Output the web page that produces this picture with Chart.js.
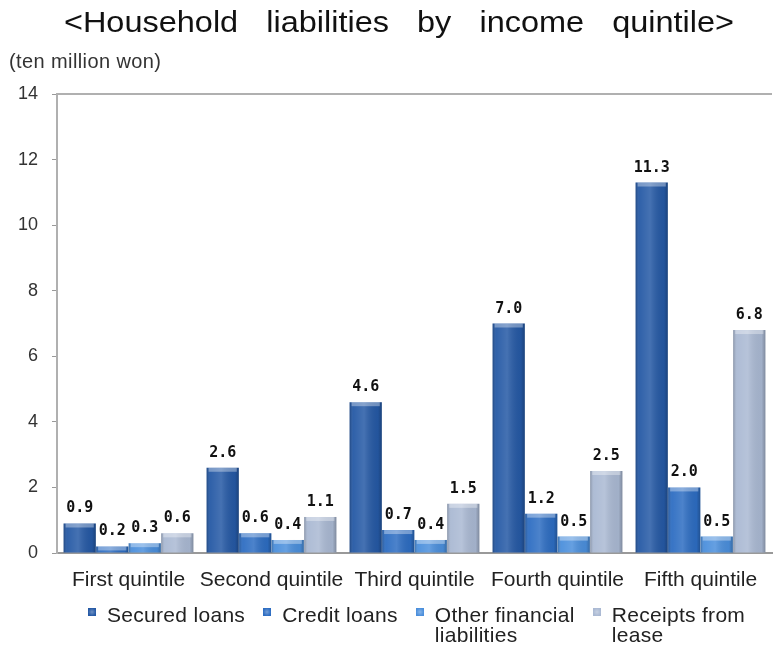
<!DOCTYPE html>
<html>
<head>
<meta charset="utf-8">
<script src="https://cdn.jsdelivr.net/npm/chart.js@4/dist/chart.umd.min.js"></script>
<style>
body{margin:0;background:#fff;font-family:"Liberation Sans",Arial,sans-serif;color:#222}
#wrap{position:relative;width:774px;height:645px}
#title{position:absolute;top:6px;left:0;width:798px;text-align:center;font-size:29px;line-height:32px;word-spacing:17px;color:#111;transform:scaleX(1.12);transform-origin:399px 0}
#unit{position:absolute;top:50px;left:9px;font-size:20px;line-height:22px;letter-spacing:0.4px;color:#333}
#legend{position:absolute;top:605px;left:88px;display:flex;gap:18px;font-size:21px;line-height:20px;letter-spacing:0.3px;color:#222}
#legend .item{display:flex;align-items:flex-start}
#legend .box{width:8px;height:8px;margin-top:3px;margin-right:11px;flex:none}
canvas{position:absolute;left:0;top:0}
</style>
</head>
<body>
<div id="wrap">
<canvas id="lienzo" width="774" height="645"></canvas>
<div id="title">&lt;Household liabilities by income quintile&gt;</div>
<div id="unit">(ten million won)</div>
<div id="legend"></div>
</div>
<script>
const categories = ["First quintile","Second quintile","Third quintile","Fourth quintile","Fifth quintile"]
const seriesNames = [["Secured loans"],["Credit loans"],["Other financial","liabilities"],["Receipts from","lease"]]
const securedLoans = [0.9, 2.6, 4.6, 7.0, 11.3]
const creditLoans = [0.2, 0.6, 0.7, 1.2, 2.0]
const otherLiabilities = [0.3, 0.4, 0.4, 0.5, 0.5]
const leaseReceipts = [0.6, 1.1, 1.5, 2.5, 6.8]
const yTicks = [0, 2, 4, 6, 8, 10, 12, 14]
const colors = ["#2559a5", "#2d6dc2", "#4b8fdc", "#aab9d3"]

// legend in html so the labels can wrap on two lines
let legend = document.getElementById("legend")
seriesNames.forEach((name, i) => {
    let item = document.createElement("div")
    item.className = "item"
    let box = document.createElement("div")
    box.className = "box"
    box.style.background = "radial-gradient(circle, #ffffff55 0%, " + colors[i] + " 70%)"
    box.style.backgroundColor = colors[i]
    let txt = document.createElement("div")
    txt.innerHTML = name.join("<br>")
    item.appendChild(box)
    item.appendChild(txt)
    legend.appendChild(item)
})

const shading = {
    id: "shading",
    afterDatasetsDraw(chart) {
        const ctx = chart.ctx
        chart.data.datasets.forEach((ds, di) => {
            chart.getDatasetMeta(di).data.forEach(bar => {
                const p = bar.getProps(["x", "y", "base", "width"], true)
                const l = p.x - p.width / 2
                const g = ctx.createLinearGradient(l, 0, l + p.width, 0)
                g.addColorStop(0, "rgba(0,0,0,0.22)")
                g.addColorStop(0.12, "rgba(255,255,255,0.05)")
                g.addColorStop(0.45, "rgba(255,255,255,0.15)")
                g.addColorStop(0.88, "rgba(0,0,0,0.05)")
                g.addColorStop(1, "rgba(0,0,0,0.25)")
                ctx.save()
                ctx.fillStyle = g
                ctx.fillRect(l, p.y, p.width, p.base - p.y)
                // light cap on top
                ctx.fillStyle = "rgba(255,255,255,0.35)"
                ctx.fillRect(l + 2, p.y, p.width - 4, Math.min(4, p.base - p.y))
                ctx.restore()
            })
        })
    }
}

const valueLabels = {
    id: "valueLabels",
    afterDatasetsDraw(chart) {
        const ctx = chart.ctx
        ctx.save()
        ctx.font = "bold 15px 'DejaVu Sans Mono'"
        ctx.fillStyle = "#111"
        ctx.textAlign = "center"
        ctx.textBaseline = "alphabetic"
        chart.data.datasets.forEach((ds, di) => {
            chart.getDatasetMeta(di).data.forEach((bar, i) => {
                ctx.fillText(ds.data[i].toFixed(1), bar.x, bar.y - 11)
            })
        })
        ctx.restore()
    }
}

const frameTop = {
    id: "frameTop",
    beforeDatasetsDraw(chart) {
        const a = chart.chartArea
        const ctx = chart.ctx
        ctx.save()
        ctx.strokeStyle = "#b0b0b0"
        ctx.lineWidth = 2
        ctx.beginPath()
        ctx.moveTo(a.left, a.top)
        ctx.lineTo(a.right, a.top)
        ctx.stroke()
        ctx.restore()
    }
}

const data = {
    labels: categories,
    datasets: [securedLoans, creditLoans, otherLiabilities, leaseReceipts].map((vals, i) => ({
        label: seriesNames[i].join(" "),
        data: vals,
        backgroundColor: colors[i],
        borderWidth: 0,
        categoryPercentage: 0.91,
        barPercentage: 0.99
    }))
}

new Chart(document.getElementById("lienzo"), {
    type: "bar",
    data: data,
    options: {
        responsive: false,
        animation: false,
        layout: {padding: {top: 94, right: 2, bottom: 52, left: 0}},
        plugins: {legend: {display: false}, tooltip: {enabled: false}},
        scales: {
            x: {
                grid: {display: false},
                border: {color: "#999", width: 2},
                ticks: {color: "#222", font: {family: "Liberation Sans", size: 21}, padding: 7, maxRotation: 0, autoSkip: false},
                afterFit: s => { s.height = 40 }
            },
            y: {
                min: 0, max: 14,
                afterBuildTicks: s => { s.ticks = yTicks.map(v => ({value: v})) },
                grid: {drawOnChartArea: false, tickLength: 5, color: "#999"},
                border: {color: "#b0b0b0", width: 2},
                ticks: {color: "#333", font: {family: "Liberation Sans", size: 18}, padding: 14},
                afterFit: s => { s.width = 57 }
            }
        }
    },
    plugins: [frameTop, shading, valueLabels]
})
</script>
</body>
</html>
